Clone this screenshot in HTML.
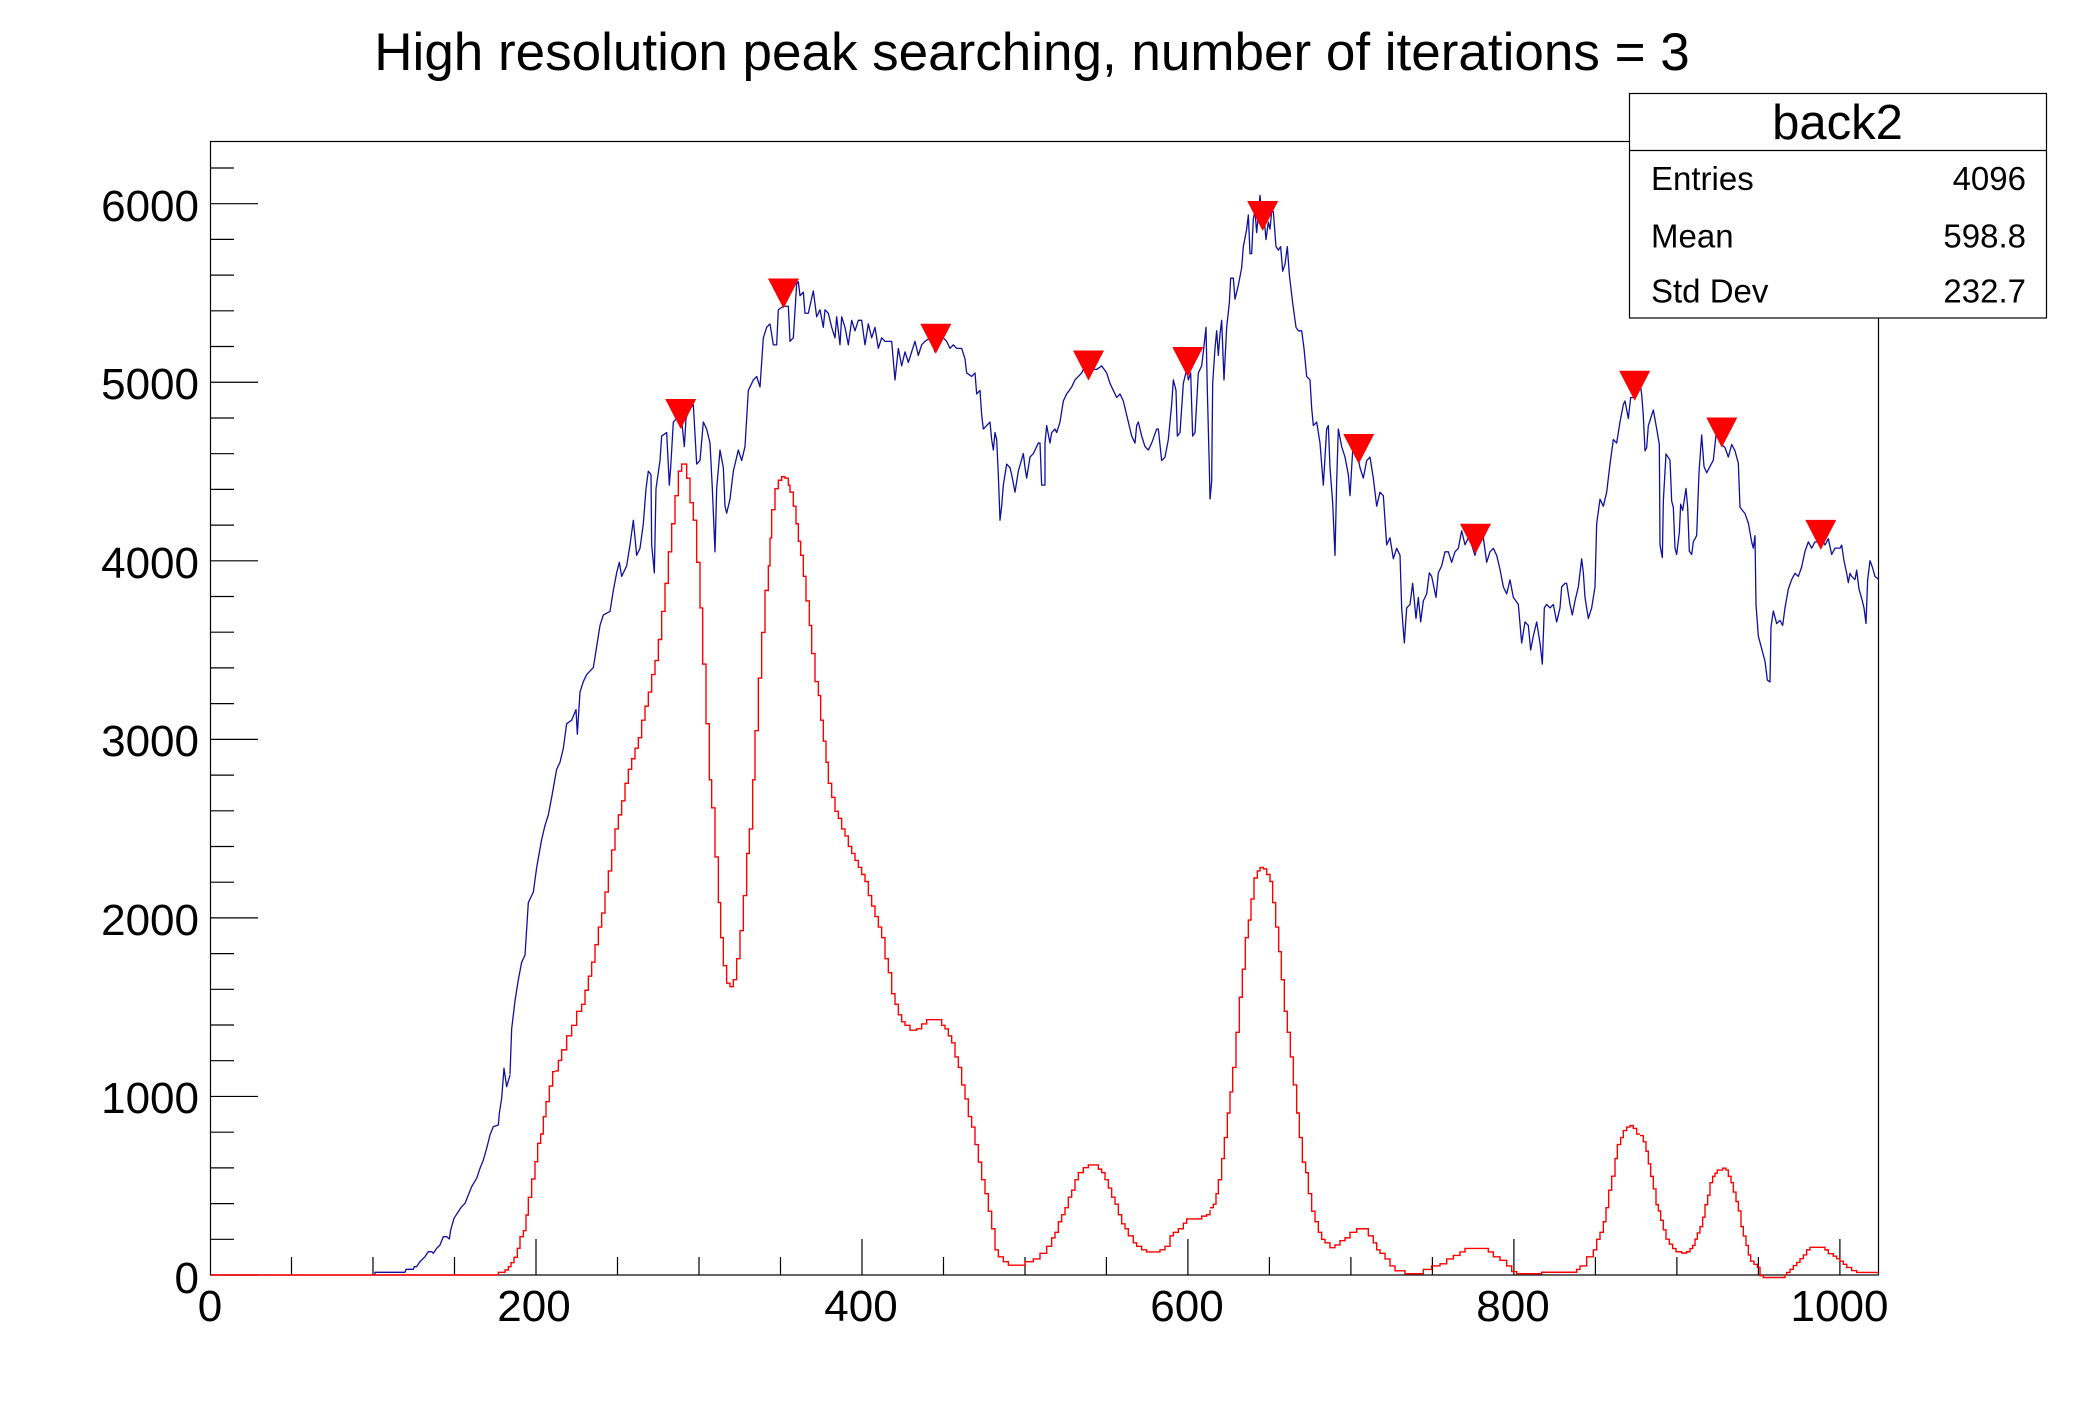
<!DOCTYPE html>
<html>
<head>
<meta charset="utf-8">
<style>
  html, body { margin: 0; padding: 0; background: #ffffff; }
  svg { display: block; }
  text { font-family: "Liberation Sans", Arial, Helvetica, sans-serif; fill: #000; }
</style>
</head>
<body>
<svg width="2088" height="1416" viewBox="0 0 2088 1416" xmlns="http://www.w3.org/2000/svg">
  <rect x="0" y="0" width="2088" height="1416" fill="#ffffff"/>

  <!-- Title -->
  <text x="1032" y="70" font-size="53" text-anchor="middle">High resolution peak searching, number of iterations = 3</text>

  <!-- Frame -->
  <rect x="210.5" y="141.5" width="1668" height="1133.5" fill="none" stroke="#000" stroke-width="1.2"/>

  <!-- Y ticks -->
  <path fill="none" stroke="#000" stroke-width="1.2" d="
    M210 1275 H258 M210 1239.3 H234 M210 1203.6 H234 M210 1167.9 H234 M210 1132.2 H234
    M210 1096.45 H258 M210 1060.7 H234 M210 1025 H234 M210 989.3 H234 M210 953.6 H234
    M210 917.9 H258 M210 882.2 H234 M210 846.5 H234 M210 810.8 H234 M210 775.1 H234
    M210 739.35 H258 M210 703.6 H234 M210 667.9 H234 M210 632.2 H234 M210 596.5 H234
    M210 560.8 H258 M210 525.1 H234 M210 489.4 H234 M210 453.7 H234 M210 418 H234
    M210 382.25 H258 M210 346.5 H234 M210 310.8 H234 M210 275.1 H234 M210 239.4 H234
    M210 203.7 H258 M210 168 H234"/>

  <!-- X ticks -->
  <path fill="none" stroke="#000" stroke-width="1.2" d="
    M291.5 1275 V1257 M373 1275 V1257 M454.5 1275 V1257 M536 1275 V1239
    M617.5 1275 V1257 M699 1275 V1257 M780.5 1275 V1257 M862 1275 V1239
    M943.5 1275 V1257 M1025 1275 V1257 M1106.4 1275 V1257 M1187.9 1275 V1239
    M1269.4 1275 V1257 M1350.9 1275 V1257 M1432.4 1275 V1257 M1513.9 1275 V1239
    M1595.4 1275 V1257 M1676.9 1275 V1257 M1758.4 1275 V1257 M1839.9 1275 V1239"/>

  <!-- Y labels -->
  <g font-size="44" text-anchor="end">
    <text x="199" y="1293">0</text>
    <text x="199" y="1113">1000</text>
    <text x="199" y="935">2000</text>
    <text x="199" y="756">3000</text>
    <text x="199" y="578">4000</text>
    <text x="199" y="399">5000</text>
    <text x="199" y="221">6000</text>
  </g>

  <!-- X labels -->
  <g font-size="44" text-anchor="middle">
    <text x="210" y="1321">0</text>
    <text x="534" y="1321">200</text>
    <text x="861" y="1321">400</text>
    <text x="1187" y="1321">600</text>
    <text x="1513" y="1321">800</text>
    <text x="1839.5" y="1321">1000</text>
  </g>

  <!-- ============ BLUE SERIES ============ -->
  <g fill="none" stroke="#1010a0" stroke-width="1.3" stroke-linejoin="round">
    <polyline vector-effect="non-scaling-stroke" transform="translate(80,1060) scale(0.333333,0.333333)"
      points="885,646 885,637 975,637 978,628 1000,628 1003,620 1010,620 1020,605 1035,590 1045,575 1055,575 1060,580 1070,565 1080,555 1090,530 1100,530 1108,537 1112,510 1122,475 1135,455 1145,440 1155,430 1165,405 1175,380 1190,355 1200,325 1210,300 1220,265 1230,225 1240,200 1255,195 1258,160 1265,115 1272,25 1280,80 1290,45"/>
    <polyline vector-effect="non-scaling-stroke" transform="translate(330,180) scale(0.333333,0.70151)"
      points="540,1275 545,1210 555,1170 565,1140 575,1115 585,1105 595,1030 610,1015 620,980 635,940 645,920 655,905 665,880 680,840 690,830 700,810 710,775 725,770 738,755 742,790 750,730 760,715 770,705 790,695 800,665 810,635 820,620 840,615 850,585 860,560 868,545 875,565 890,550 900,520 910,485 915,510 920,535 930,525 940,490 948,440 955,415 963,420 965,520 973,560 978,440 990,400 995,365 1010,360 1018,435 1022,410 1030,345 1040,340 1050,320 1063,380 1068,340 1075,330 1090,320 1100,405 1110,400 1120,345 1130,355 1140,375 1147,440 1155,530 1160,440 1170,385 1180,410 1185,465 1190,475 1200,455 1210,415 1225,385 1235,400 1245,380 1255,300 1270,285 1280,280 1290,295 1300,225 1310,210 1320,205"/>
    <polyline vector-effect="non-scaling-stroke" transform="translate(770,180) scale(0.333333,0.70151)"
      points="0,205 10,235 20,235 25,185 40,180 55,180 60,230 70,225 80,148 85,145 90,165 100,160 105,190 115,190 130,158 140,195 150,185 160,210 165,185 175,190 185,210 195,225 200,195 210,235 215,195 225,210 235,235 245,200 255,215 265,200 275,200 285,235 295,205 305,225 315,210 325,240 335,225 345,230 365,230 375,285 385,240 395,265 405,245 415,260 425,245 435,230 445,250 455,235 465,230 480,225 495,245 510,220 520,225 530,230 540,240 550,235 560,240 575,240 585,255 590,275 605,280 615,275 620,305 630,300 635,335 640,355 650,350 660,345 665,370 670,385 675,360 680,370 685,420 690,485 695,465 700,435 710,405 720,410 725,420 735,445 745,415 760,390 765,410 770,425 780,395 790,390 805,375 810,375 815,435 825,435 825,375 830,350 840,375 845,360 855,355 860,360 870,345 880,315 890,305 905,295 915,285 925,280 935,275 945,265 955,275 965,270 980,270 995,265 1010,275 1020,290 1030,300 1040,310 1050,305 1060,315 1070,335 1085,365 1095,375 1100,350 1105,345 1115,365 1125,380 1135,385 1145,375 1160,355 1165,355 1175,400 1185,395 1195,370 1205,320 1210,285 1218,300 1222,365 1230,360 1240,290 1250,270 1255,285 1262,275 1268,365 1275,360 1285,275 1295,265 1300,245 1308,210 1312,300 1318,410 1320,455"/>
    <polyline vector-effect="non-scaling-stroke" transform="translate(1210,180) scale(0.333333,0.70151)"
      points="0,455 5,430 8,290 15,240 20,215 25,250 30,220 35,200 42,285 50,210 58,175 62,140 70,140 75,170 85,150 95,125 100,95 110,70 115,50 120,105 125,105 130,55 135,45 140,75 145,50 150,22 155,45 160,40 168,85 175,60 180,70 185,45 190,45 198,95 205,100 212,95 218,130 225,120 232,95 238,135 248,175 258,210 265,215 275,215 282,240 290,280 300,285 305,325 310,350 320,345 330,375 340,435 345,395 350,355 355,350 360,410 368,460 375,535 380,430 385,355 395,380 405,395 415,420 420,450 430,370 440,385 450,410 460,425 470,400 480,395 490,425 500,465 510,445 520,450 530,520 540,510 550,540 560,525 570,535 575,610 583,660 590,610 600,605 608,575 618,625 625,595 632,630 640,600 650,590 658,560 665,565 678,595 685,560 695,550 705,530 715,530 725,545 735,530 745,525 755,500 765,520 775,510 785,520 795,535 805,515 820,510 830,545 840,530 850,525 860,535 870,555 880,580 890,590 900,570 910,595 925,605 935,660 945,630 955,635 962,670 970,650 980,630 990,660 997,690 1003,610 1010,605 1020,610 1030,605 1040,630 1050,610 1055,580 1065,575 1070,575 1080,605 1087,620 1095,600 1105,580 1115,540 1120,560 1125,595 1135,625 1145,610 1155,580 1160,490 1170,455 1180,465 1190,445 1200,405 1210,370 1220,375 1230,345 1240,320 1245,315 1255,340 1262,310 1270,310 1280,305 1290,290"/>
    <polyline vector-effect="non-scaling-stroke" transform="translate(1640,300) scale(0.333333,0.62822)"
      points="0,132 5,150 10,185 15,240 20,235 25,200 40,175 50,205 58,230 60,390 67,410 70,320 78,245 90,255 95,320 100,330 105,395 110,405 118,370 122,325 128,335 138,300 143,330 148,400 155,405 160,385 170,375 177,275 185,215 192,265 200,275 210,265 220,255 228,215 235,220 245,230 255,235 265,250 275,230 285,240 295,260 300,330 315,340 325,355 335,385 340,395 345,375 348,485 355,535 365,555 375,575 382,605 390,608 393,520 400,495 410,515 420,510 428,518 435,490 445,460 455,445 465,435 475,440 485,425 495,400 505,385 515,395 525,385 535,385 545,380 555,390 565,380 575,405 585,395 600,395 605,390 612,415 620,435 625,450 630,435 635,440 645,445 650,430 657,460 665,475 672,490 678,515 683,445 690,415 697,425 705,440 716,445"/>
  </g>

  <!-- ============ RED SERIES ============ -->
  <g fill="none" stroke="#ff0000" stroke-width="1.4">
    <path vector-effect="non-scaling-stroke" transform="translate(80,1060) scale(0.333333,0.333333)"
      d="M391 645 H1255 V637 H1275 V630 H1285 V620 H1293 V608 H1302 V592 H1312 V565 H1320 V530 H1330 V512 H1338 V465 H1345 V412 H1355 V357 H1365 V305 H1373 V250 H1382 V222 H1390 V170 H1398 V125 H1408 V78 H1418 V35 H1425"/>
    <path vector-effect="non-scaling-stroke" transform="translate(330,180) scale(0.333333,0.70151)"
      d="M675 1270 H685 V1255 H695 V1240 H710 V1220 H725 V1205 H740 V1185 H755 V1175 H765 V1155 H775 V1135 H785 V1115 H795 V1090 H805 V1065 H815 V1045 H825 V1015 H835 V985 H845 V955 H855 V925 H865 V905 H875 V885 H885 V860 H895 V840 H905 V825 H915 V810 H925 V795 H935 V770 H945 V750 H955 V730 H965 V705 H975 V685 H985 V655 H995 V615 H1005 V575 H1015 V530 H1025 V490 H1035 V450 H1045 V415 H1055 V405 H1070 V425 H1080 V460 H1090 V485 H1100 V545 H1110 V610 H1118 V690 H1128 V775 H1138 V855 H1145 V895 H1155 V965 H1165 V1030 H1172 V1080 H1180 V1120 H1190 V1145 H1200 V1150 H1210 V1140 H1220 V1110 H1230 V1070 H1240 V1020 H1250 V960 H1258 V925 H1268 V855 H1275 V785 H1285 V710 H1295 V645 H1305 V585 H1315 V550 H1320 V510"/>
    <path vector-effect="non-scaling-stroke" transform="translate(770,180) scale(0.333333,0.70151)"
      d="M0 510 H5 V470 H15 V440 H25 V428 H35 V423 H45 V425 H55 V435 H60 V445 H70 V465 H78 V490 H85 V515 H92 V535 H100 V565 H108 V600 H118 V635 H125 V675 H135 V715 H145 V735 H152 V770 H160 V800 H168 V830 H175 V860 H185 V880 H195 V900 H205 V910 H215 V925 H225 V935 H235 V950 H245 V960 H255 V970 H265 V980 H275 V990 H285 V1000 H295 V1020 H305 V1035 H315 V1050 H325 V1065 H335 V1080 H345 V1110 H355 V1130 H365 V1160 H375 V1175 H385 V1190 H395 V1200 H405 V1205 H420 V1212 H440 V1210 H455 V1203 H470 V1197 H500 V1197 H515 V1205 H525 V1210 H535 V1220 H545 V1230 H555 V1250 H565 V1265 H575 V1290 H585 V1310 H595 V1335 H605 V1350 H615 V1375 H625 V1400 H635 V1425 H645 V1445 H655 V1470 H665 V1495 H675 V1525 H685 V1535 H700 V1542 H715 V1547 H750 V1547 H765 V1542 H790 V1538 H810 V1530 H830 V1520 H845 V1508 H855 V1500 H865 V1485 H875 V1475 H885 V1465 H895 V1450 H905 V1440 H915 V1425 H925 V1415 H940 V1408 H955 V1404 H970 V1404 H985 V1410 H995 V1415 H1005 V1425 H1015 V1437 H1025 V1450 H1035 V1460 H1045 V1475 H1055 V1488 H1065 V1495 H1075 V1505 H1090 V1515 H1100 V1520 H1115 V1525 H1130 V1528 H1155 V1528 H1170 V1525 H1185 V1520 H1200 V1505 H1210 V1500 H1225 V1495 H1240 V1487 H1250 V1481 H1280 V1481 H1295 V1477 H1310 V1475 H1320 V1468"/>
    <path vector-effect="non-scaling-stroke" transform="translate(1210,180) scale(0.333333,0.70151)"
      d="M0 1465 H10 V1460 H18 V1445 H25 V1425 H35 V1395 H43 V1365 H52 V1330 H60 V1300 H68 V1265 H78 V1215 H88 V1165 H97 V1125 H106 V1080 H115 V1055 H123 V1025 H132 V995 H142 V985 H150 V980 H160 V982 H170 V990 H180 V1000 H188 V1030 H197 V1065 H206 V1100 H214 V1140 H223 V1185 H232 V1215 H241 V1250 H250 V1290 H260 V1330 H268 V1365 H277 V1400 H287 V1415 H295 V1445 H305 V1470 H315 V1485 H325 V1500 H335 V1510 H345 V1515 H360 V1522 H375 V1518 H390 V1512 H405 V1508 H420 V1500 H440 V1495 H465 V1495 H475 V1505 H490 V1515 H500 V1525 H510 V1530 H525 V1538 H540 V1548 H555 V1555 H585 V1559 H640 V1553 H665 V1548 H690 V1545 H710 V1538 H730 V1533 H750 V1528 H765 V1523 H835 V1528 H850 V1535 H870 V1540 H890 V1548 H905 V1556 H920 V1559 H995 V1557 H1100 V1553 H1110 V1548 H1130 V1535 H1150 V1525 H1160 V1510 H1170 V1500 H1180 V1485 H1188 V1465 H1196 V1440 H1205 V1420 H1215 V1395 H1222 V1375 H1232 V1365 H1240 V1355 H1250 V1350 H1260 V1348 H1270 V1352 H1280 V1360 H1290 V1360"/>
    <path vector-effect="non-scaling-stroke" transform="translate(1640,300) scale(0.333333,0.62822)"
      d="M0 1330 H10 V1340 H18 V1355 H25 V1375 H32 V1395 H40 V1415 H48 V1440 H55 V1450 H62 V1465 H70 V1480 H78 V1495 H88 V1503 H98 V1510 H108 V1515 H125 V1517 H140 V1515 H150 V1510 H158 V1505 H165 V1495 H172 V1485 H180 V1475 H188 V1460 H195 V1440 H203 V1425 H210 V1405 H218 V1395 H225 V1390 H232 V1385 H248 V1382 H258 V1385 H265 V1395 H273 V1405 H280 V1420 H288 V1435 H295 V1450 H303 V1475 H310 V1490 H318 V1505 H325 V1520 H332 V1530 H342 V1535 H352 V1540 H360 V1553 H370 V1556 H435 V1552 H440 V1548 H450 V1543 H460 V1537 H470 V1532 H480 V1526 H490 V1520 H500 V1512 H510 V1508 H555 V1512 H565 V1518 H580 V1522 H590 V1526 H600 V1530 H610 V1535 H620 V1540 H635 V1545 H650 V1548 H716"/>
  </g>

  <!-- ============ PEAK MARKERS ============ -->
  <g fill="#ff0000" stroke="none">
    <polygon points="665.2,399 696.2,399 680.7,429"/>
    <polygon points="768,278.5 799,278.5 783.5,308.5"/>
    <polygon points="920.3,323.8 951.3,323.8 935.8,353.8"/>
    <polygon points="1073,350.5 1104,350.5 1088.5,380.5"/>
    <polygon points="1172.3,347 1203.3,347 1187.8,377"/>
    <polygon points="1247.2,201 1278.2,201 1262.7,231"/>
    <polygon points="1343.2,434 1374.2,434 1358.7,464"/>
    <polygon points="1460,523.7 1491,523.7 1475.5,553.7"/>
    <polygon points="1619.2,370.8 1650.2,370.8 1634.7,400.8"/>
    <polygon points="1706.3,417.5 1737.3,417.5 1721.8,447.5"/>
    <polygon points="1805.3,519.9 1836.3,519.9 1820.8,549.9"/>
  </g>

  <!-- ============ STATS BOX ============ -->
  <rect x="1629.5" y="93.5" width="417" height="224.5" fill="#ffffff" stroke="#000" stroke-width="1.2"/>
  <line x1="1629.5" y1="150.5" x2="2046.5" y2="150.5" stroke="#000" stroke-width="1.2"/>
  <text x="1837.5" y="139" font-size="49" text-anchor="middle">back2</text>
  <g font-size="33">
    <text x="1651" y="190">Entries</text>
    <text x="1651" y="247.5">Mean</text>
    <text x="1651" y="302.5">Std Dev</text>
  </g>
  <g font-size="33" text-anchor="end">
    <text x="2026" y="190">4096</text>
    <text x="2026" y="247.5">598.8</text>
    <text x="2026" y="302.5">232.7</text>
  </g>
</svg>
</body>
</html>
